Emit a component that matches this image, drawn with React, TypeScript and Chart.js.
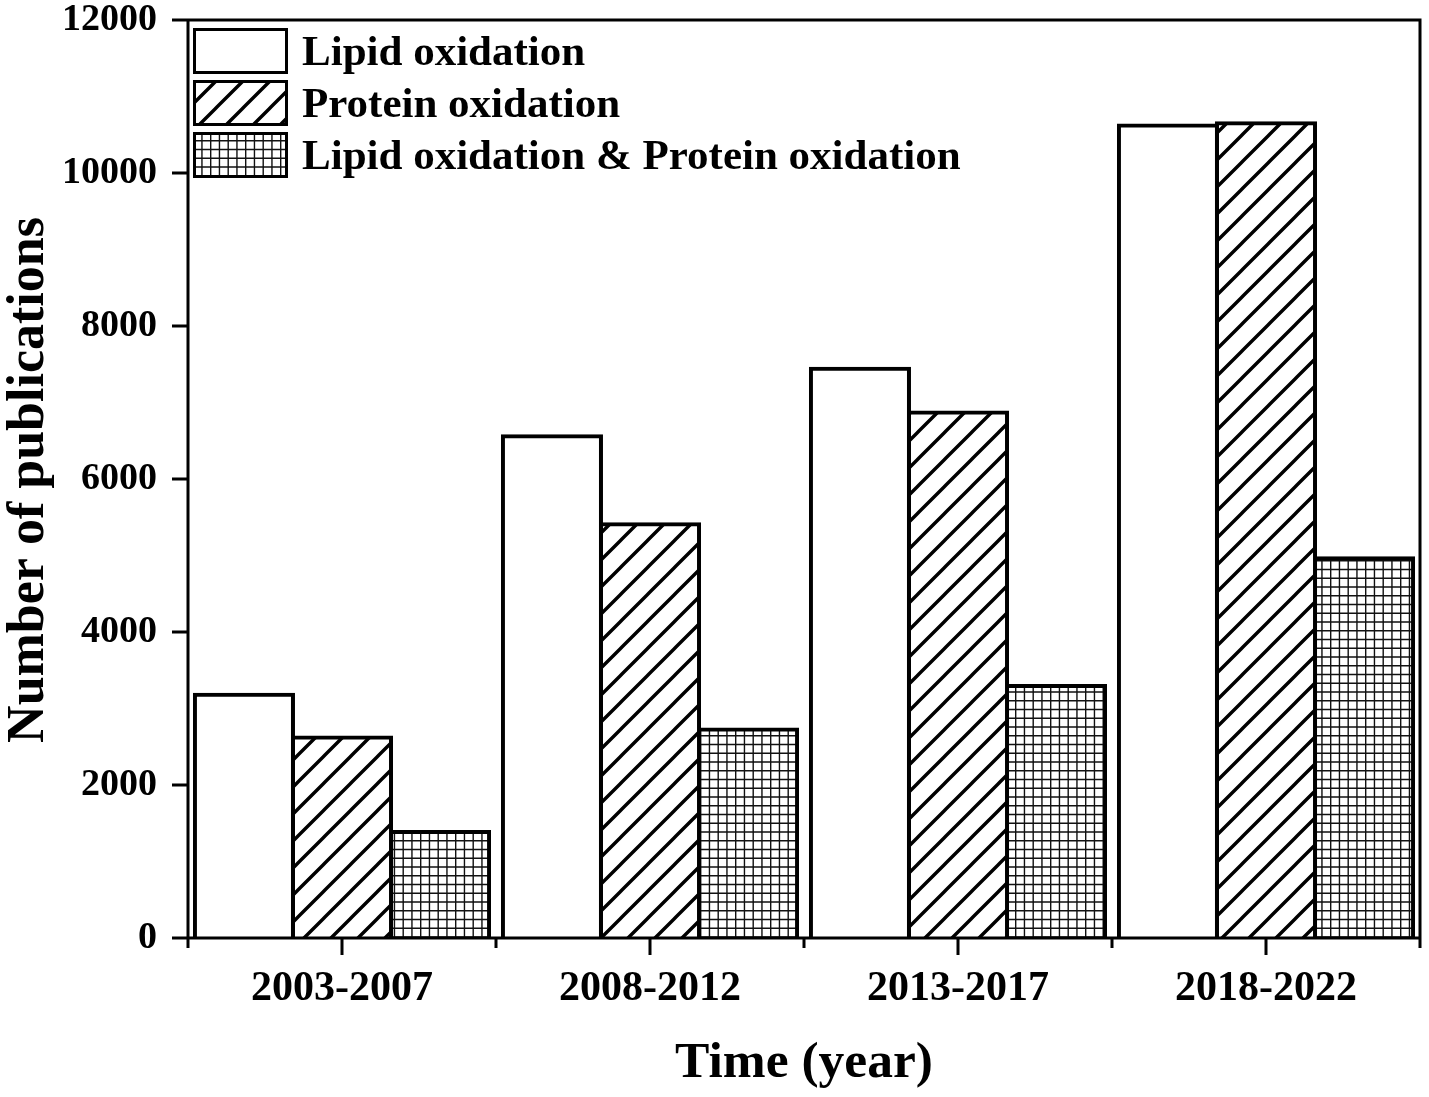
import React, { useEffect, useRef } from "react";
import { Chart, registerables } from "chart.js";

Chart.register(...registerables);

const categories = ["2003-2007", "2008-2012", "2013-2017", "2018-2022"];
const lipidValues = [3180, 6560, 7440, 10620];
const proteinValues = [2620, 5410, 6870, 10650];
const bothValues = [1385, 2725, 3295, 4965];
const seriesNames = ["Lipid oxidation", "Protein oxidation", "Lipid oxidation & Protein oxidation"];
const yTickValues = [0, 2000, 4000, 6000, 8000, 10000, 12000];
const xTitle = "Time (year)";
const yTitle = "Number of publications";

const FONT = "'Liberation Serif', 'Times New Roman', serif";

function makeHatch(): CanvasPattern {
  const s = 27;
  const c = document.createElement("canvas");
  c.width = s;
  c.height = s;
  const g = c.getContext("2d")!;
  g.fillStyle = "#fff";
  g.fillRect(0, 0, s, s);
  g.strokeStyle = "#000";
  g.lineWidth = 3.4;
  g.beginPath();
  g.moveTo(-3, s + 3);
  g.lineTo(s + 3, -3);
  g.moveTo(-3, 3);
  g.lineTo(3, -3);
  g.moveTo(s - 3, s + 3);
  g.lineTo(s + 3, s - 3);
  g.stroke();
  return g.createPattern(c, "repeat")!;
}

function makeGrid(): CanvasPattern {
  const s = 35;
  const step = s / 4;
  const c = document.createElement("canvas");
  c.width = s;
  c.height = s;
  const g = c.getContext("2d")!;
  g.fillStyle = "#fff";
  g.fillRect(0, 0, s, s);
  g.strokeStyle = "#111";
  g.lineWidth = 1.4;
  g.beginPath();
  for (let i = 0; i < 4; i++) {
    const p = i * step + 0.7;
    g.moveTo(p, 0);
    g.lineTo(p, s);
    g.moveTo(0, p);
    g.lineTo(s, p);
  }
  g.stroke();
  return g.createPattern(c, "repeat")!;
}

export default function App() {
  const ref = useRef<HTMLCanvasElement | null>(null);

  useEffect(() => {
    document.body.style.margin = "0";
    const canvas = ref.current!;
    const hatch = makeHatch();
    const grid = makeGrid();
    const fills: (string | CanvasPattern)[] = ["#ffffff", hatch, grid];

    const framePlugin = {
      id: "frame",
      afterDraw(chart: any) {
        const ctx = chart.ctx as CanvasRenderingContext2D;
        const { left, right, top, bottom } = chart.chartArea;
        const xs = chart.scales.x;
        const ys = chart.scales.y;
        ctx.save();
        ctx.strokeStyle = "#000";
        ctx.lineWidth = 3;
        ctx.lineCap = "butt";
        ctx.beginPath();
        ctx.moveTo(left - 16, bottom);
        ctx.lineTo(right + 1.5, bottom);
        ctx.moveTo(left - 16, top);
        ctx.lineTo(right + 1.5, top);
        ctx.moveTo(left, top - 1.5);
        ctx.lineTo(left, bottom + 1.5);
        ctx.moveTo(right, top - 1.5);
        ctx.lineTo(right, bottom + 1.5);
        yTickValues.forEach((v) => {
          const py = ys.getPixelForValue(v);
          ctx.moveTo(left - 16, py);
          ctx.lineTo(left, py);
        });
        categories.forEach((_, i) => {
          const px = xs.getPixelForValue(i);
          ctx.moveTo(px, bottom);
          ctx.lineTo(px, bottom + 17);
        });
        for (let i = 0; i <= categories.length; i++) {
          const px = left + ((right - left) * i) / categories.length;
          ctx.moveTo(px, bottom);
          ctx.lineTo(px, bottom + 10);
        }
        ctx.stroke();

        // legend
        const bx = 193;
        const bw = 95;
        const bh = 46;
        const tops = [28, 80, 132];
        ctx.font = `bold 43px ${FONT}`;
        ctx.textAlign = "left";
        ctx.textBaseline = "alphabetic";
        seriesNames.forEach((name, i) => {
          const ty = tops[i];
          ctx.fillStyle = fills[i] as any;
          ctx.fillRect(bx, ty, bw, bh);
          ctx.lineWidth = 3;
          ctx.strokeStyle = "#000";
          ctx.strokeRect(bx + 1.5, ty + 1.5, bw - 3, bh - 3);
          ctx.fillStyle = "#000";
          ctx.fillText(name, 302, ty + 37);
        });

        // axis titles
        ctx.fillStyle = "#000";
        ctx.font = `bold 51.5px ${FONT}`;
        ctx.textAlign = "center";
        ctx.fillText(xTitle, (left + right) / 2, 1077);
        ctx.save();
        ctx.font = `bold 52px ${FONT}`;
        ctx.translate(43, (top + bottom) / 2 + 1);
        ctx.rotate(-Math.PI / 2);
        ctx.fillText(yTitle, 0, 0);
        ctx.restore();
        ctx.restore();
      },
    };

    const makeDs = (label: string, data: number[], fill: any) => ({
      label,
      data,
      backgroundColor: fill,
      borderColor: "#000",
      borderWidth: 4,
      inflateAmount: 2,
      categoryPercentage: 0.955,
      barPercentage: 1,
    });

    const chart = new Chart(canvas, {
      type: "bar",
      data: {
        labels: categories,
        datasets: [
          makeDs(seriesNames[0], lipidValues, fills[0]),
          makeDs(seriesNames[1], proteinValues, fills[1]),
          makeDs(seriesNames[2], bothValues, fills[2]),
        ],
      },
      options: {
        animation: false,
        responsive: false,
        devicePixelRatio: 1,
        events: [],
        layout: { padding: { left: 0, top: 20, right: 9, bottom: 0 } },
        plugins: { legend: { display: false }, tooltip: { enabled: false } },
        scales: {
          x: {
            type: "category",
            offset: true,
            grid: { display: false, drawTicks: false },
            border: { display: false },
            ticks: {
              color: "#000",
              padding: 26,
              maxRotation: 0,
              font: { family: FONT, size: 42, weight: "bold" },
            },
            afterFit: (s: any) => {
              s.height = 159;
              s.paddingLeft = 0;
              s.paddingRight = 0;
            },
          },
          y: {
            min: 0,
            max: 12000,
            grid: { display: false, drawTicks: false },
            border: { display: false },
            ticks: {
              stepSize: 2000,
              color: "#000",
              padding: 31,
              font: { family: FONT, size: 38, weight: "bold" },
              callback: (v: any) => String(v),
            },
            afterFit: (s: any) => {
              s.width = 188;
              s.paddingTop = 0;
              s.paddingBottom = 0;
            },
          },
        },
      } as any,
      plugins: [framePlugin],
    });

    return () => chart.destroy();
  }, []);

  return (
    <div style={{ width: 1429, height: 1097, background: "#fff" }}>
      <canvas ref={ref} width={1429} height={1097} style={{ display: "block" }} />
    </div>
  );
}
